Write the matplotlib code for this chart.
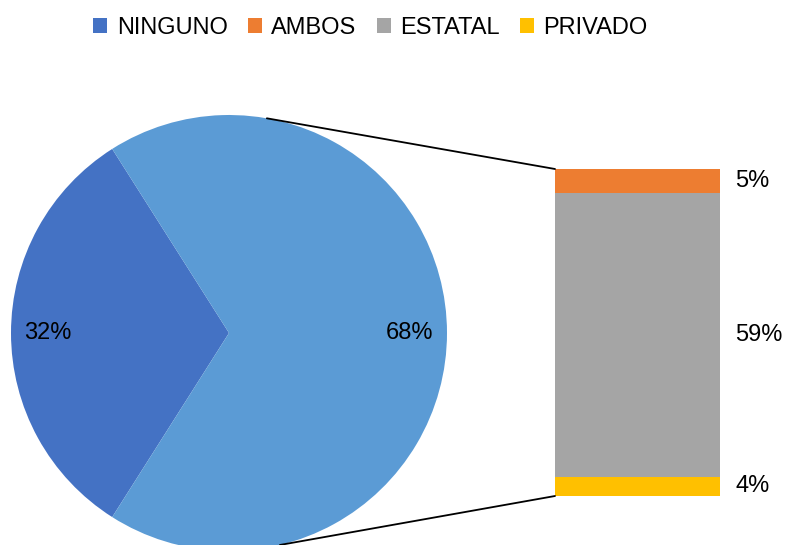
import matplotlib.pyplot as plt
from matplotlib.patches import ConnectionPatch
import numpy as np

# data
pie_labels = ['NINGUNO', 'OTROS']
pie_values = [32, 68]
pie_colors = ['#4472C4', '#5B9BD5']

bar_labels = ['PRIVADO', 'ESTATAL', 'AMBOS']   # bottom -> top
bar_values = [4, 59, 5]
bar_colors = ['#FFC000', '#A5A5A5', '#ED7D31']

legend_order = ['NINGUNO', 'AMBOS', 'ESTATAL', 'PRIVADO']

plt.rcParams['font.family'] = ['Liberation Sans', 'DejaVu Sans']
fs = 17

fig = plt.figure(figsize=(7.85, 5.45), dpi=100)

# pie axes (center ~ (229,333) px, radius ~218 px)
ax_pie = fig.add_axes([11 / 785, -6 / 545, 436 / 785, 436 / 545])
start = 180 - pie_values[0] / 100 * 360 / 2
wedges, _, pct = ax_pie.pie(pie_values, colors=pie_colors, startangle=start,
                            autopct='%1.0f%%', pctdistance=0.83, radius=1,
                            textprops={'fontsize': fs, 'color': 'black'})
ax_pie.set_xlim(-1, 1)
ax_pie.set_ylim(-1, 1)
ax_pie.set_aspect('auto')
ax_pie.axis('off')

# stacked bar
ax_bar = fig.add_axes([555 / 785, 49 / 545, 165 / 785, 327 / 545])
bottom = 0
bars = []
for lab, val, col in zip(bar_labels, bar_values, bar_colors):
    b = ax_bar.bar(0, val, width=1, bottom=bottom, color=col, label=lab)
    bars.append(b[0])
    ax_bar.annotate(f'{val}%', xy=(0.5, bottom + val / 2), xytext=(15, 0),
                    textcoords='offset pixels', ha='left', va='center', fontsize=fs)
    bottom += val
ax_bar.set_xlim(-0.5, 0.5)
ax_bar.set_ylim(0, sum(bar_values))
ax_bar.axis('off')

# connecting lines
total = sum(bar_values)
for ang, yb in [(80, total), (-76.5, 0)]:
    xp = np.cos(np.radians(ang))
    yp = np.sin(np.radians(ang))
    con = ConnectionPatch(xyA=(-0.5, yb), coordsA=ax_bar.transData,
                          xyB=(xp, yp), coordsB=ax_pie.transData,
                          color='black', linewidth=1.3)
    fig.add_artist(con)

# legend
handle_map = {'NINGUNO': wedges[0]}
for lab, b in zip(bar_labels, bars):
    handle_map[lab] = b
fig.legend([handle_map[k] for k in legend_order], legend_order, ncol=4,
           loc='center', bbox_to_anchor=(0.472, 0.949), frameon=False,
           fontsize=fs, handlelength=0.6, handleheight=0.6,
           handletextpad=0.4, columnspacing=0.85)

fig.savefig('out.png', dpi=100)
